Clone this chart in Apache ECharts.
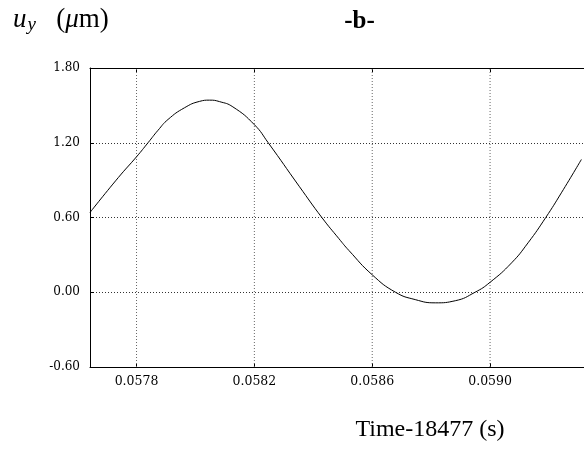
<!DOCTYPE html>
<html>
<head>
<meta charset="utf-8">
<script src="https://cdn.jsdelivr.net/npm/echarts@6/dist/echarts.min.js"></script>
<style>
html,body{margin:0;padding:0;background:#fff;}
#chart{width:584px;height:452px;}
</style>
</head>
<body>
<div id="chart"></div>
<script>
// Data
var times = [0.057642, 0.057738, 0.057801, 0.057839, 0.057873, 0.057907, 0.057963, 0.058014,
             0.058048, 0.058082, 0.058127, 0.058200, 0.058247, 0.058352, 0.058429, 0.058487,
             0.058521, 0.058600, 0.058679, 0.058746, 0.058814, 0.058882, 0.058949, 0.059000,
             0.059073, 0.059129, 0.059189, 0.059242, 0.059310];
var uy = [0.64, 0.92, 1.09, 1.20, 1.30, 1.387, 1.481, 1.532,
          1.542, 1.530, 1.488, 1.345, 1.20, 0.851, 0.60, 0.43,
          0.335, 0.14, 0.0, -0.059, -0.085, -0.068, 0.0, 0.08,
          0.236, 0.397, 0.60, 0.798, 1.066];
var xTicks = [0.0578, 0.0582, 0.0586, 0.0590];
var xTickLabels = ['0.0578', '0.0582', '0.0586', '0.0590'];
var yTicks = [-0.60, 0.00, 0.60, 1.20, 1.80];
var xMin = 0.0576421, xMax = 0.0593188;

var serif = '"Liberation Serif", "Times New Roman", serif';
var tickFont = '"DejaVu Serif", serif';

var chart = echarts.init(document.getElementById('chart'), null, {renderer: 'canvas'});
var points = times.map(function (t, i) { return [t, uy[i]]; });

var gridSeries = xTicks.map(function (t) {
  return {
    type: 'line', data: [[t, yTicks[0]], [t, yTicks[yTicks.length - 1]]],
    symbol: 'none', silent: true, z: 1,
    lineStyle: {color: '#666', width: 1, type: [1, 2]}
  };
});

chart.setOption({
  animation: false,
  backgroundColor: '#fff',
  grid: {left: 90, right: -2, top: 68, bottom: 85, containLabel: false},
  xAxis: [{
    type: 'value', min: xMin, max: xMax, position: 'bottom',
    axisLine: {show: true, onZero: false, lineStyle: {color: '#000', width: 1}},
    axisTick: {show: true, inside: true, length: 4, customValues: xTicks, lineStyle: {color: '#000'}},
    axisLabel: {show: true, customValues: xTicks, margin: 8,
      formatter: function (v) { var i = xTicks.indexOf(+(+v).toFixed(4)); return i >= 0 ? xTickLabels[i] : (+v).toFixed(4); },
      fontFamily: tickFont, fontSize: 12.5, color: '#000'},
    splitLine: {show: false}
  }, {
    type: 'value', min: xMin, max: xMax, position: 'top',
    axisLine: {show: true, onZero: false, lineStyle: {color: '#000', width: 1}},
    axisTick: {show: true, inside: true, length: 4, customValues: xTicks, lineStyle: {color: '#000'}},
    axisLabel: {show: false},
    splitLine: {show: false}
  }],
  yAxis: {
    type: 'value', min: -0.6, max: 1.8, interval: 0.6,
    axisLine: {show: true, onZero: false, lineStyle: {color: '#000', width: 1}},
    axisTick: {show: true, inside: true, length: 4, lineStyle: {color: '#000'}},
    axisLabel: {margin: 10, fontFamily: tickFont, fontSize: 12, color: '#000',
      formatter: function (v) { return v.toFixed(2); }},
    splitLine: {show: true, lineStyle: {color: '#333', width: 1, type: [1, 2]}}
  },
  series: gridSeries.concat([{
    type: 'line', data: points, smooth: 0.5, symbol: 'none', z: 3,
    lineStyle: {color: '#000', width: 1}
  }]),
  graphic: [
    {type: 'text', left: 13, top: 6, style: {
      text: '{i|u}{s|y}{n|   (}{i|μ}{n|m)}',
      rich: {
        i: {fontFamily: serif, fontStyle: 'italic', fontSize: 27, fill: '#000'},
        s: {fontFamily: serif, fontStyle: 'italic', fontSize: 19, fill: '#000', padding: [11, 0, 0, 1]},
        n: {fontFamily: serif, fontSize: 27, fill: '#000'}
      }}},
    {type: 'text', x: 359.5, y: 9, style: {text: '-b-', font: 'bold 25px ' + serif, fill: '#000', align: 'center'}},
    {type: 'text', x: 430, y: 418, style: {text: 'Time-18477 (s)', font: '24px ' + serif, fill: '#000', align: 'center'}}
  ]
});
</script>
</body>
</html>
